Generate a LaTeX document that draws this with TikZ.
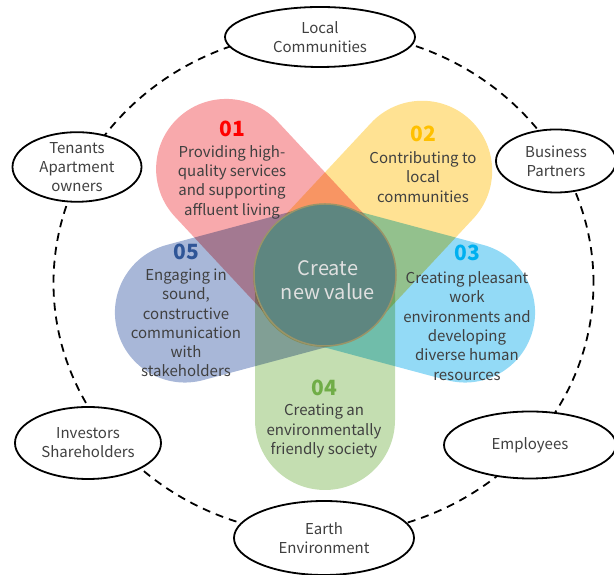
\documentclass[tikz,border=0pt]{standalone}
\usepackage{fontspec}
\setmainfont{Noto Sans CJK JP}
\usetikzlibrary{shapes.geometric,shapes.misc,calc}
\definecolor{petalred}{HTML}{F8A9AC}
\definecolor{petalyellow}{HTML}{FFE293}
\definecolor{petalblue}{HTML}{93DAF6}
\definecolor{petalslate}{HTML}{A8B7D8}
\definecolor{petalgreen}{HTML}{C4DEB1}
\definecolor{numred}{HTML}{FF0000}
\definecolor{numyellow}{HTML}{FFC000}
\definecolor{numblue}{HTML}{00B0F0}
\definecolor{numgreen}{HTML}{70AD47}
\definecolor{numslate}{HTML}{2F5597}
\definecolor{txtgrey}{HTML}{404040}
\definecolor{coregreen}{HTML}{5E8680}
\definecolor{corerim}{HTML}{9A9468}
\tikzset{
  ring/.style={line width=1.8pt, dash pattern=on 8pt off 6pt},
  petal/.style={rounded rectangle, minimum width=285pt, minimum height=140pt, inner sep=0pt},
  party/.style={ellipse, draw=black, line width=1.8pt, fill=white, align=center, inner sep=0pt, text=txtgrey, font=\fontsize{15}{19}\selectfont},
  petaltext/.style={align=center, text=txtgrey, font=\fontsize{15}{19.3}\selectfont},
  petalnum/.style={font=\bfseries\fontsize{21}{21}\selectfont},
}

\begin{document}
\begin{tikzpicture}[x=1pt,y=1pt]
\useasboundingbox (0,0) rectangle (614,575);
\coordinate (C) at (325,300);
% dashed ring of stakeholders
\draw[ring] (323.5,292) ellipse [x radius=270, y radius=252];
% five petals
\begin{scope}[blend group=multiply]
\node[petal, fill=petalgreen, rotate=270] (p4) at ($(C)+(270:72.5)$) {};
\node[petal, fill=petalblue, rotate=-15] (p3) at ($(C)+(-15:72.5)$) {};
\node[petal, fill=petalslate, rotate=195] (p5) at ($(C)+(195:72.5)$) {};
\node[petal, fill=petalyellow, rotate=47] (p2) at ($(C)+(47:70)$) {};
\node[petal, fill=petalred, rotate=133] (p1) at ($(C)+(133:72.5)$) {};
\end{scope}
\node[circle, minimum size=142pt, fill=coregreen, draw=corerim, line width=1.5pt] (core) at (C) {};
\node[align=center, text=white!88!black, font=\fontsize{20}{24}\selectfont] (cv) at (328,295) {Create\\new value};
% petal labels
\node[petalnum, text=numred] (n1) at (232,446) {01};
\node[petaltext] (t1) at (232,393) {Providing high-\\quality services\\and supporting\\affluent living};
\node[petalnum, text=numyellow] (n2) at (423,441) {02};
\node[petaltext] (t2) at (423,398) {Contributing to\\local\\communities};
\node[petalnum, text=numblue] (n3) at (467,322) {03};
\node[petaltext] (t3) at (467,249) {Creating pleasant\\work\\environments and\\developing\\diverse human\\resources};
\node[petalnum, text=numgreen] (n4) at (324,187) {04};
\node[petaltext] (t4) at (324,144) {Creating an\\environmentally\\friendly society};
\node[petalnum, text=numslate] (n5) at (186,323) {05};
\node[petaltext] (t5) at (186,252) {Engaging in\\sound,\\constructive\\communication\\with\\stakeholders};
% stakeholders
\node[party, minimum width=190pt, minimum height=60pt] (lc) at (320,538) {Local\\Communities};
\node[party, minimum width=129pt, minimum height=64pt] (ta) at (77,408) {Tenants\\Apartment\\owners};
\node[party, minimum width=120pt, minimum height=63pt] (bp) at (556,414) {Business\\Partners};
\node[party, minimum width=146pt, minimum height=72pt] (is) at (88,132) {Investors\\Shareholders};
\node[party, minimum width=172pt, minimum height=67pt] (em) at (530,130) {Employees};
\node[party, minimum width=180pt, minimum height=74pt] (ee) at (324,37) {Earth\\Environment};
\end{tikzpicture}
\end{document}
